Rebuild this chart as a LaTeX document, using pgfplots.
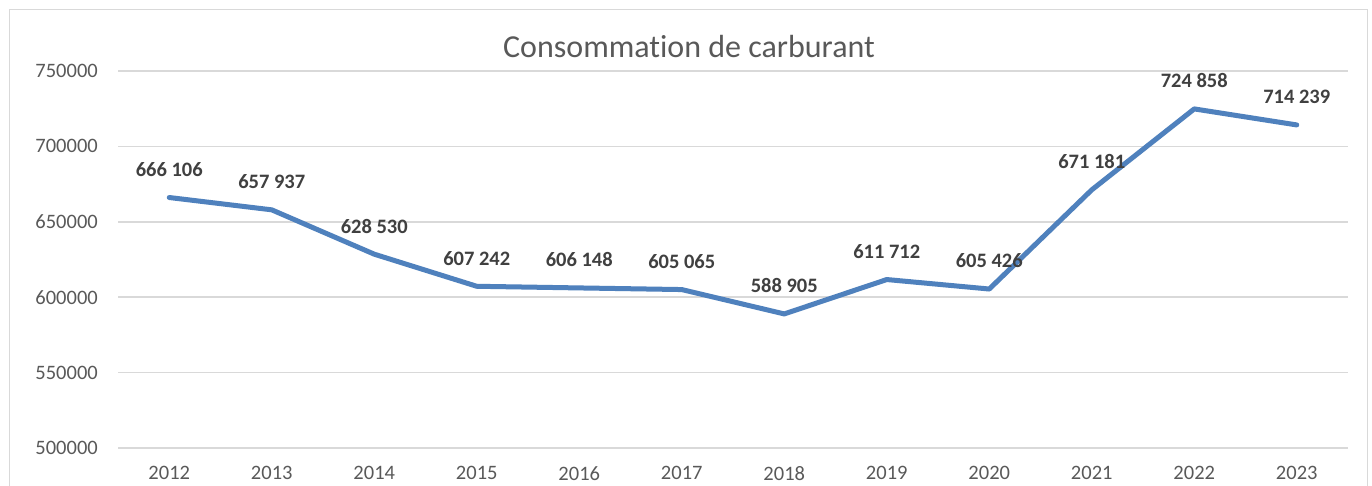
\documentclass[border=0pt]{standalone}
\usepackage{pgfplots}
\pgfplotsset{compat=1.18}
\usepackage{fontspec}
\setmainfont[Ligatures=NoCommon]{Carlito}
\definecolor{lineblue}{RGB}{79,129,189}
\definecolor{gridgray}{RGB}{217,217,217}
\definecolor{labgray}{RGB}{89,89,89}
\definecolor{datgray}{RGB}{64,64,64}
\begin{document}
\begin{tikzpicture}
\path[use as bounding box] (0pt,0pt) rectangle (1372pt,-486pt);
\fill[white] (0pt,0pt) rectangle (1372pt,-486pt);
\draw[gridgray, line width=1.5pt] (9.5pt,-500pt) -- (9.5pt,-9.5pt) -- (1367.5pt,-9.5pt) -- (1367.5pt,-500pt);
\node[labgray, font=\fontsize{32}{36}\selectfont, inner sep=0pt] at (689pt,-47pt) {Consommation de carburant};
\begin{axis}[
  at={(118pt,-448pt)}, anchor=south west,
  scale only axis, width=1230pt, height=377pt,
  xmin=-0.5, xmax=11.5, ymin=500000, ymax=750000,
  xtick={0,...,11},
  xticklabels={2012,2013,2014,2015,2016,2017,2018,2019,2020,2021,2022,2023},
  ytick={500000,550000,600000,650000,700000,750000},
  scaled y ticks=false,
  /pgf/number format/fixed, /pgf/number format/1000 sep={},
  /pgf/number format/assume math mode=true,
  axis line style={draw=none},
  major tick length=0pt,
  ymajorgrids, major grid style={gridgray, line width=1.5pt},
  tick label style={labgray, font=\fontsize{20.5}{24}\selectfont, inner sep=0pt},
  yticklabel style={anchor=east, xshift=-20pt},
  xticklabel style={anchor=north, yshift=-18pt},
  clip=false,
]
\addplot[lineblue, line width=5pt, line join=round, line cap=round,
  nodes near coords, point meta=explicit symbolic,
  nodes near coords style={anchor=center, yshift=28pt, inner sep=0pt, datgray, font=\fontsize{20.5}{24}\selectfont\bfseries}]
coordinates {
(0,666106) [666 106]
(1,657937) [657 937]
(2,628530) [628 530]
(3,607242) [607 242]
(4,606148) [606 148]
(5,605065) [605 065]
(6,588905) [588 905]
(7,611712) [611 712]
(8,605426) [605 426]
(9,671181) [671 181]
(10,724858) [724 858]
(11,714239) [714 239]
};
\end{axis}
\end{tikzpicture}
\end{document}
